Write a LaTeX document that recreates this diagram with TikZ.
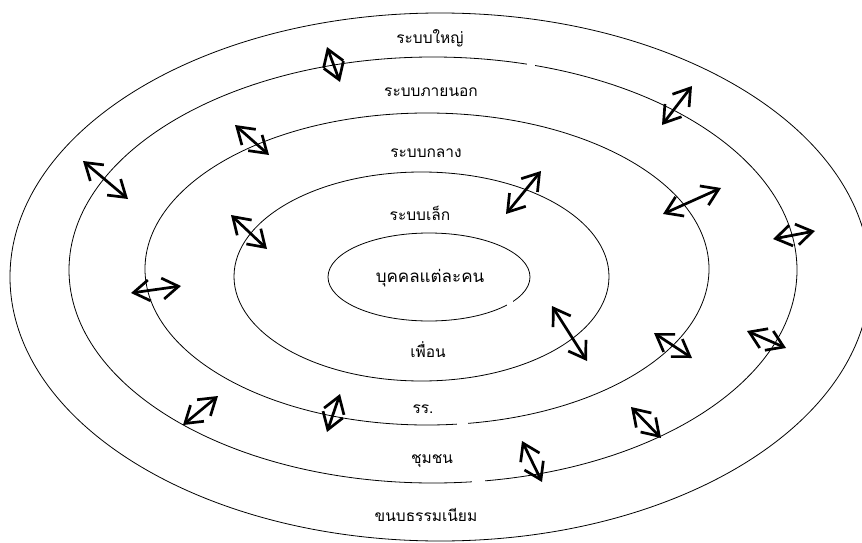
\documentclass[tikz,border=0pt]{standalone}
\usepackage{fontspec}
\newfontfamily\thaifont[Script=Thai]{Loma}
\usetikzlibrary{arrows.meta}
\begin{document}
\begin{tikzpicture}[x=1pt,y=-1pt,
  ring/.style={draw=black, line width=0.8pt},
  dbl/.style={line width=2.7pt, {Straight Barb[length=16pt,width=21pt]}-{Straight Barb[length=16pt,width=21pt]}},
  lbl/.style={font=\thaifont\fontsize{15.5}{18}\selectfont, inner sep=0pt},
  biglbl/.style={font=\thaifont\fontsize{17}{20}\selectfont, inner sep=0pt},
  gapbox/.style={fill=white, draw=none}]
\useasboundingbox (0,0) rectangle (862,543);
\clip (0,0) rectangle (862,543);
% rings
\draw[ring] (440,277) ellipse [x radius=430pt, y radius=264pt];
\draw[ring] (433,270) ellipse [x radius=364pt, y radius=213pt];
\draw[ring] (427,269) ellipse [x radius=282pt, y radius=156pt];
\draw[ring] (421.5,276.5) ellipse [x radius=187.5pt, y radius=104.5pt];
\draw[ring] (429,277) ellipse [x radius=101pt, y radius=44pt];
% gaps in the lines
\fill[gapbox] (527,55) rectangle (535,70);
\fill[gapbox] (507,296) rectangle (513,310);
\fill[gapbox] (457,417) rectangle (468,431);
\fill[gapbox] (472,475) rectangle (485,489);
% labels
\node[lbl] (l1) at (430,38) {ระบบใหญ่};
\node[lbl] (l2) at (431,92) {ระบบภายนอก};
\node[lbl] (l3) at (426,153) {ระบบกลาง};
\node[lbl] (l4) at (420,213) {ระบบเล็ก};
\node[biglbl] (l5) at (430,278) {บุคคลแต่ละคน};
\node[lbl] (l6) at (428,350) {เพื่อน};
\node[lbl] (l7) at (423,409) {รร.};
\node[lbl] (l8) at (432,461) {ชุมชน};
\node[lbl] (l9) at (426,515) {ขนบธรรมเนียม};
% arrow end points
\coordinate (a1s) at (327,47);  \coordinate (a1e) at (340,82);
\coordinate (a2s) at (662,125); \coordinate (a2e) at (692,86);
\coordinate (a3s) at (235,125); \coordinate (a3e) at (269,155);
\coordinate (a4s) at (83,161);  \coordinate (a4e) at (128,199);
\coordinate (a5s) at (506,214); \coordinate (a5e) at (541,171);
\coordinate (a6s) at (663,214); \coordinate (a6e) at (721,188);
\coordinate (a7s) at (231,215); \coordinate (a7e) at (267,249);
\coordinate (a8s) at (773,239); \coordinate (a8e) at (815,231);
\coordinate (a9s) at (131,293); \coordinate (a9e) at (181,286);
\coordinate (a10s) at (552,306); \coordinate (a10e) at (587,361);
\coordinate (a11s) at (654,333); \coordinate (a11e) at (692,358);
\coordinate (a12s) at (747,331); \coordinate (a12e) at (786,348);
\coordinate (a13s) at (183,425); \coordinate (a13e) at (218,396);
\coordinate (a14s) at (327,432); \coordinate (a14e) at (340,394);
\coordinate (a15s) at (631,407); \coordinate (a15e) at (661,438);
\coordinate (a16s) at (522,441); \coordinate (a16e) at (542,482);
\foreach \i in {1,...,16} {\draw[dbl] (a\i s) -- (a\i e);}
\end{tikzpicture}
\end{document}
